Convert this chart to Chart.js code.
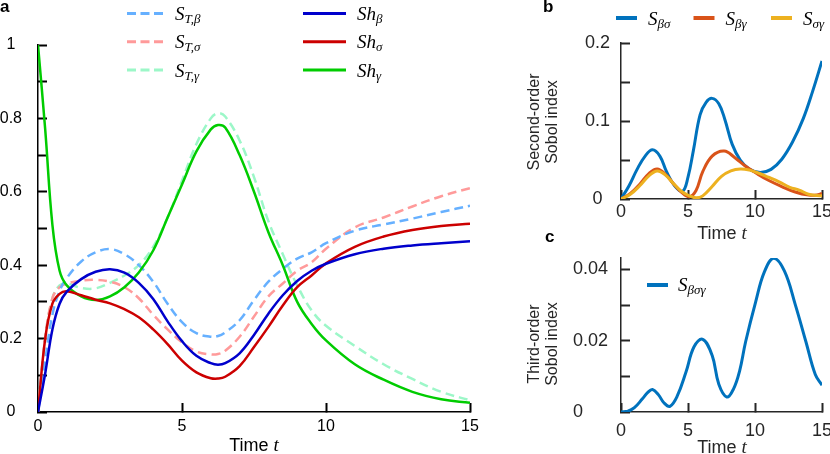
<!DOCTYPE html>
<html>
<head>
<meta charset="utf-8">
<script src="https://cdn.jsdelivr.net/npm/chart.js@4.4.0/dist/chart.umd.min.js"></script>
<style>
  body { margin: 0; background: #fff; }
  #fig { position: relative; width: 830px; height: 454px; overflow: hidden; background: #fff; }
  .box { position: absolute; }
  #overlay { position: absolute; left: 0; top: 0; pointer-events: none; }
</style>
</head>
<body>
<div id="fig">
  <div class="box" style="left:0;top:0;width:520px;height:454px"><canvas id="chartA"></canvas></div>
  <div class="box" style="left:520px;top:0;width:310px;height:220px"><canvas id="chartB"></canvas></div>
  <div class="box" style="left:520px;top:220px;width:310px;height:234px"><canvas id="chartC"></canvas></div>
  <svg id="overlay" width="830" height="454"></svg>
</div>
<script>
// ---- painel a : indices totais e Shapley ----
const tA = [0, 0.25, 0.5, 0.75, 1, 1.5, 2, 2.5, 3, 3.5, 4, 4.5, 5, 5.5, 6, 6.25, 6.5, 7, 7.5, 8, 8.5, 9, 9.5, 10, 11, 12, 13, 14, 15];
const stBeta  = [0, .14, .265, .33, .365, .41, .435, .444, .43, .40, .355, .295, .245, .215, .205, .207, .217, .25, .305, .355, .39, .418, .435, .46, .494, .511, .527, .545, .562];
const stSigma = [0, .2, .31, .34, .35, .358, .36, .355, .34, .31, .265, .225, .19, .165, .157, .158, .167, .205, .26, .315, .35, .385, .408, .445, .503, .53, .56, .588, .61];
const stGamma = [0, .2, .31, .345, .35, .338, .337, .352, .372, .40, .45, .53, .63, .73, .80, .814, .805, .74, .64, .52, .43, .345, .277, .235, .18, .13, .09, .055, .032];
const shBeta  = [0, .105, .225, .295, .328, .362, .382, .389, .38, .352, .308, .247, .193, .153, .133, .129, .133, .16, .21, .268, .318, .357, .385, .404, .43, .445, .454, .46, .465];
const shSigma = [0, .2, .295, .322, .329, .318, .306, .296, .28, .258, .225, .185, .14, .108, .092, .091, .096, .125, .177, .232, .29, .34, .372, .405, .45, .478, .496, .507, .513];
const shGamma = [1, .77, .51, .385, .345, .315, .305, .315, .34, .38, .44, .53, .62, .71, .77, .782, .775, .70, .60, .49, .40, .30, .24, .195, .13, .088, .055, .035, .025];

// ---- painel b : segunda ordem (cada curva com os seus tempos) ----
const tBetaSigma = [0, 0.6, 1.2, 1.8, 2.35, 2.9, 3.4, 4.0, 4.6, 5.0, 5.4, 5.9, 6.35, 6.8, 7.3, 7.75, 8.3, 8.9, 9.6, 10.4, 11.2, 12.0, 12.8, 13.6, 14.3, 15];
const sBetaSigma = [0, .017, .038, .055, .063, .055, .035, .017, .01, .028, .062, .108, .124, .129, .122, .102, .07, .05, .038, .034, .038, .051, .073, .103, .138, .177];
const tBetaGamma = [0, 0.7, 1.4, 2.1, 2.7, 3.3, 3.9, 4.5, 5.1, 5.6, 6.1, 6.8, 7.7, 8.5, 9.3, 10.1, 11.0, 12.0, 13.0, 14.0, 14.6, 15];
const sBetaGamma = [0, .007, .019, .033, .0385, .032, .02, .009, .003, .011, .035, .055, .0615, .053, .042, .033, .024, .016, .009, .005, .005, .007];
const tSigmaGamma = [0, 0.7, 1.4, 2.1, 2.7, 3.3, 3.9, 4.5, 5.1, 5.6, 6.1, 6.8, 7.5, 8.2, 8.9, 9.6, 10.3, 11.0, 11.8, 12.6, 13.3, 14.0, 15];
const sSigmaGamma = [0, .006, .017, .03, .036, .031, .02, .01, .004, .0015, .004, .016, .029, .036, .0385, .037, .033, .028, .022, .015, .0115, .006, .004];

// ---- painel c : terceira ordem ----
const tBetaSigmaGamma = [0, 0.5, 1.0, 1.6, 2.0, 2.35, 2.8, 3.2, 3.65, 4.2, 4.85, 5.45, 6.1, 6.8, 7.3, 7.9, 8.4, 8.85, 9.3, 10.05, 10.7, 11.4, 12.2, 13.0, 13.8, 14.5, 15];
const sBetaSigmaGamma = [0, .0002, .0012, .0037, .0055, .0063, .0048, .0026, .0016, .0045, .0112, .0183, .0204, .0159, .0078, .0042, .0065, .0115, .0197, .0309, .0393, .0431, .0395, .0302, .0197, .0105, .0075];

// ---- ticks (marcas e rotulos) ----
const xTicks = [0, 5, 10, 15];
const yMarksA = [0, 0.1, 0.2, 0.3, 0.4, 0.5, 0.6, 0.7, 0.8, 0.9, 1];
const yLabelsA = [0, 0.2, 0.4, 0.6, 0.8, 1];
const yMarksB = [0, 0.05, 0.1, 0.15, 0.2];
const yLabelsB = [0, 0.1, 0.2];
const yMarksC = [0, 0.01, 0.02, 0.03, 0.04];
const yLabelsC = [0, 0.02, 0.04];

const SANS = '"Liberation Sans", Arial, sans-serif';
const SERIF = '"Liberation Serif", "Times New Roman", serif';

const cores = {
  stBeta: '#66b0ff', stSigma: '#ff9a9a', stGamma: '#9cf7c8',
  shBeta: '#0000cc', shSigma: '#cc0000', shGamma: '#00cc00',
  bs: '#0072bd', bg: '#d95319', sg: '#edb120'
};

const pts = (xs, ys) => xs.map((x, i) => ({x, y: ys[i]}));

const serie = (label, ts, vals, color, extra) => Object.assign({
  label, data: pts(ts, vals), borderColor: color, backgroundColor: color,
  borderWidth: 2.5, pointRadius: 0, fill: false, tension: 0.4
}, extra);

// ticks para dentro: tickLength negativo, so as marcas (sem grade na area do grafico)
const grade = (color) => ({display: true, drawOnChartArea: false, drawTicks: true, tickLength: -9, tickColor: color, tickWidth: 2, color});

const opcoes = (c) => ({
  responsive: true,
  maintainAspectRatio: false,
  animation: false,
  events: [],
  layout: {padding: c.pad},
  plugins: {legend: {display: false}, tooltip: {enabled: false}},
  scales: {
    x: {
      type: 'linear', min: 0, max: 15,
      grid: grade(c.axisColor),
      border: {display: true, color: c.axisColor, width: 1.5},
      ticks: {color: c.textColor, font: {family: SANS, size: c.fontSize}, padding: c.xPad, maxRotation: 0, autoSkip: false, callback: v => String(v)},
      afterBuildTicks: s => { s.ticks = xTicks.map(v => ({value: v})); },
      afterFit: s => { s.height = c.xHeight; s.paddingLeft = 0; s.paddingRight = 0; }
    },
    y: {
      type: 'linear', min: 0, max: c.yMax,
      grid: grade(c.axisColor),
      border: {display: true, color: c.axisColor, width: 1.5},
      ticks: {color: c.textColor, font: {family: SANS, size: c.fontSize}, padding: c.yPad, crossAlign: c.crossAlign, autoSkip: false,
        callback: v => (c.yLabels.includes(v) ? String(v) : '')},
      afterBuildTicks: s => { s.ticks = c.yMarks.map(v => ({value: v})); },
      afterFit: s => { s.width = c.yWidth; s.paddingTop = 0; s.paddingBottom = 0; }
    }
  }
});

const tracejado = {borderDash: [9, 5], order: 1};

new Chart(document.getElementById('chartA'), {
  type: 'line',
  data: {
    datasets: [
      serie('Sh_β', tA, shBeta, cores.shBeta, {order: 0}),
      serie('Sh_σ', tA, shSigma, cores.shSigma, {order: 0}),
      serie('Sh_γ', tA, shGamma, cores.shGamma, {order: 0}),
      serie('S_T,β', tA, stBeta, cores.stBeta, tracejado),
      serie('S_T,σ', tA, stSigma, cores.stSigma, tracejado),
      serie('S_T,γ', tA, stGamma, cores.stGamma, tracejado)
    ]
  },
  options: opcoes({pad: {left: 0, top: 45, right: 50, bottom: 0}, yWidth: 38, xHeight: 42,
    yMax: 1, yMarks: yMarksA, yLabels: yLabelsA, fontSize: 16, xPad: 14, yPad: 25, crossAlign: 'center',
    axisColor: '#000', textColor: '#000'})
});

new Chart(document.getElementById('chartB'), {
  type: 'line',
  data: {
    datasets: [
      serie('S_βσ', tBetaSigma, sBetaSigma, cores.bs, {borderWidth: 3, order: 2}),
      serie('S_βγ', tBetaGamma, sBetaGamma, cores.bg, {borderWidth: 3, order: 1}),
      serie('S_σγ', tSigmaGamma, sSigmaGamma, cores.sg, {borderWidth: 3, order: 0})
    ]
  },
  options: opcoes({pad: {left: 0, top: 43, right: 8, bottom: 0}, yWidth: 101, xHeight: 21,
    yMax: 0.2, yMarks: yMarksB, yLabels: yLabelsB, fontSize: 18, xPad: 11, yPad: 20, crossAlign: 'center',
    axisColor: '#262626', textColor: '#262626'})
});

new Chart(document.getElementById('chartC'), {
  type: 'line',
  data: {
    datasets: [serie('S_βσγ', tBetaSigmaGamma, sBetaSigmaGamma, cores.bs, {borderWidth: 3})]
  },
  options: opcoes({pad: {left: 53, top: 38, right: 8, bottom: 0}, yWidth: 48, xHeight: 42,
    yMax: 0.0432, yMarks: yMarksC, yLabels: yLabelsC, fontSize: 18, xPad: 17, yPad: 19, crossAlign: 'far',
    axisColor: '#262626', textColor: '#262626'})
});

// ---- textos, legendas e letras dos paineis (svg por cima) ----
const NS = 'http://www.w3.org/2000/svg';
const svg = document.getElementById('overlay');
const el = (tag, attrs, parent = svg, txt) => {
  const e = document.createElementNS(NS, tag);
  for (const k in attrs) e.setAttribute(k, attrs[k]);
  if (txt !== undefined) e.textContent = txt;
  parent.appendChild(e);
  return e;
};

const rotuloMat = (x, y, main, sub) => {
  const t = el('text', {x, y, 'font-family': SERIF, 'font-style': 'italic', 'font-size': 19, fill: '#000'}, svg, main);
  el('tspan', {'font-size': 13, dy: 3}, t, sub);
};
const linhaLegenda = (x1, x2, y, color, w, dash) => {
  const a = {x1, x2, y1: y, y2: y, stroke: color, 'stroke-width': w};
  if (dash) a['stroke-dasharray'] = '9 4.5';
  el('line', a);
};
const tempo = (x, y, color) => {
  const t = el('text', {x, y, 'text-anchor': 'middle', 'font-family': SANS, 'font-size': 18, fill: color}, svg, 'Time ');
  el('tspan', {'font-family': SERIF, 'font-style': 'italic', 'font-size': 19}, t, 't');
};
const tituloY = (x1, x2, y, l1, l2) => {
  el('text', {transform: `translate(${x1},${y}) rotate(-90)`, 'text-anchor': 'middle', 'font-family': SANS, 'font-size': 16, fill: '#262626'}, svg, l1);
  el('text', {transform: `translate(${x2},${y}) rotate(-90)`, 'text-anchor': 'middle', 'font-family': SANS, 'font-size': 16, fill: '#262626'}, svg, l2);
};
const letra = (x, y, s) => el('text', {x, y, 'font-family': SANS, 'font-weight': 'bold', 'font-size': 17, fill: '#000'}, svg, s);

// legenda a
const legA = [
  [cores.stBeta, true, 'S', 'T,β'], [cores.stSigma, true, 'S', 'T,σ'], [cores.stGamma, true, 'S', 'T,γ'],
  [cores.shBeta, false, 'Sh', 'β'], [cores.shSigma, false, 'Sh', 'σ'], [cores.shGamma, false, 'Sh', 'γ']
];
legA.forEach(([c, d, m, s], i) => {
  const col = Math.floor(i / 3), y = 13.5 + (i % 3) * 28.2;
  const x1 = col ? 303 : 127, x2 = col ? 346 : 163, xl = col ? 357 : 175;
  linhaLegenda(x1, x2, y, c, 3, d);
  rotuloMat(xl, y + 6.7, m, s);
});

// legenda b
[[cores.bs, 'βσ'], [cores.bg, 'βγ'], [cores.sg, 'σγ']].forEach(([c, s], i) => {
  const x = 616 + i * 77.5;
  linhaLegenda(x, x + 21, 18, c, 4, false);
  rotuloMat(x + 32, 24.7, 'S', s);
});

// legenda c
linhaLegenda(647, 668, 285, cores.bs, 4, false);
rotuloMat(678, 291, 'S', 'βσγ');

tempo(254, 450.7, '#000');
tempo(722, 239.3, '#262626');
tempo(722, 452.7, '#262626');
tituloY(539, 557, 122, 'Second-order', 'Sobol index');
tituloY(539, 557, 344, 'Third-order', 'Sobol index');
letra(0, 12, 'a');
letra(543, 12, 'b');
letra(545, 241.7, 'c');
</script>
</body>
</html>
